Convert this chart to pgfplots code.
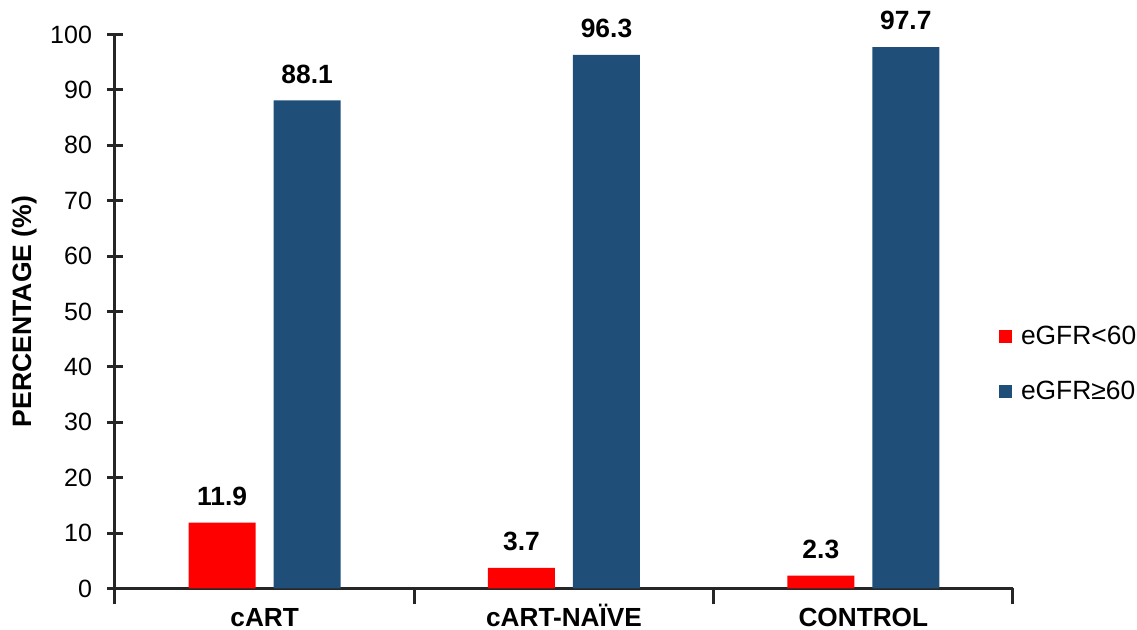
\documentclass[border=0pt]{standalone}
\usepackage{pgfplots}
\pgfplotsset{compat=1.18}
\usepackage{fontspec}
\setmainfont{Liberation Sans}
\definecolor{barred}{RGB}{255,0,0}
\definecolor{barblue}{RGB}{31,78,121}
\definecolor{axgray}{RGB}{38,38,38}
\begin{document}
\begin{tikzpicture}
\useasboundingbox (-57.5pt,-20.75pt) rectangle (511pt,294.25pt);
\begin{axis}[
 at={(0pt,0pt)}, anchor=south west,
 scale only axis, width=449pt, height=277pt,
 ybar=9pt, bar width=33.5pt,
 xmin=-0.5, xmax=2.5, ymin=0, ymax=100,
 clip=false,
 axis lines*=left,
 axis line style={line width=1.5pt, axgray},
 every tick/.style={line width=1.5pt, axgray},
 major tick length=8pt,
 xtick align=outside, ytick align=center,
 xtick={-0.5,0.5,1.5,2.5},
 x tick label as interval,
 xticklabels={cART,cART-NAÏVE,CONTROL},
 xticklabel style={font=\fontsize{13.1}{15}\selectfont\bfseries, text height=9.4pt, text depth=0pt, yshift=2pt},
 ytick={0,10,...,100},
 yticklabel style={font=\fontsize{12.5}{15}\selectfont, xshift=-4pt},
 /pgf/number format/assume math mode=true,
 ylabel={PERCENTAGE (\%)},
 ylabel style={font=\fontsize{13.3}{15}\selectfont\bfseries, at={(axis description cs:-0.101,0.5)}, anchor=center},
 nodes near coords={\pgfmathprintnumber[fixed,precision=1,zerofill]{\pgfplotspointmeta}},
 every node near coord/.append style={font=\fontsize{13.2}{15}\selectfont\bfseries, anchor=south, yshift=5pt, black},
 legend style={at={(0.984,0.405)}, anchor=west, draw=none, fill=none, inner sep=0pt, row sep=13pt, font=\fontsize{13.2}{15}\selectfont, nodes={inner xsep=4.5pt}},
 legend cell align=left,
]
\addplot[fill=barred, draw=none, legend image code/.code={\fill[barred] (0pt,-3.25pt) rectangle (6.5pt,3.25pt);}] coordinates {(0,11.9) (1,3.7) (2,2.3)};
\addplot[fill=barblue, draw=none, legend image code/.code={\fill[barblue] (0pt,-3.25pt) rectangle (6.5pt,3.25pt);}] coordinates {(0,88.1) (1,96.3) (2,97.7)};
\legend{eGFR<60, eGFR≥60}
\end{axis}
\end{tikzpicture}
\end{document}
